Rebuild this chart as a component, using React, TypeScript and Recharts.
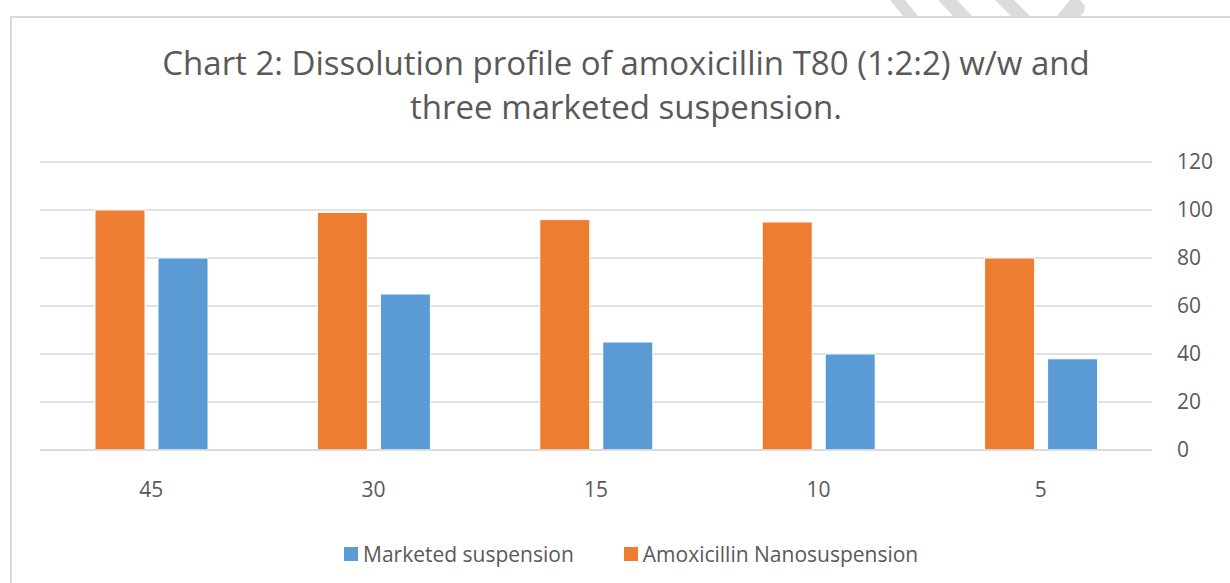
import { BarChart, Bar, XAxis, YAxis, CartesianGrid } from "recharts";

const timePoints = ["45", "30", "15", "10", "5"];
const nanoValues = [100, 99, 96, 95, 80];
const marketedValues = [80, 65, 45, 40, 38];
const yTicks = [0, 20, 40, 60, 80, 100, 120];

const NANO_COLOR = "#ED7D31";
const MARKETED_COLOR = "#5B9BD5";
const TEXT_COLOR = "#595959";
const GRID_COLOR = "#D9D9D9";
const FONT = "'Open Sans', 'Noto Sans', sans-serif";

const data = timePoints.map((t, i) => ({
  time: t,
  nano: nanoValues[i],
  marketed: marketedValues[i],
}));

const legendItems = [
  { name: "Marketed suspension", color: MARKETED_COLOR },
  { name: "Amoxicillin Nanosuspension", color: NANO_COLOR },
];

export default function App() {
  return (
    <div
      style={{
        position: "fixed",
        left: 0,
        top: 0,
        width: 1230,
        height: 583,
        background: "#fff",
        overflow: "hidden",
        fontFamily: FONT,
      }}
    >
      {/* watermark stripes */}
      <svg
        width={1230}
        height={20}
        style={{ position: "absolute", left: 0, top: 0 }}
      >
        <polygon points="890,0 905,0 918,16 903,16" fill="#DCDCDC" />
        <polygon points="938,0 957,0 972,16 953,16" fill="#DCDCDC" />
        <polygon points="995,0 1014,0 1030,16 1011,16" fill="#DCDCDC" />
        <polygon points="1070,0 1080,0 1085,6 1084,12 1080,16 1057,16" fill="#DCDCDC" />
      </svg>

      {/* outer chart border */}
      <div
        style={{
          position: "absolute",
          left: 10,
          top: 16,
          width: 1230,
          height: 600,
          borderLeft: "2px solid #D9D9D9",
          borderTop: "2px solid #D9D9D9",
        }}
      />

      <div
        style={{
          position: "absolute",
          left: 0,
          top: 41,
          width: 1252,
          textAlign: "center",
          fontSize: 33,
          lineHeight: "44px",
          color: TEXT_COLOR,
          whiteSpace: "nowrap",
        }}
      >
        Chart 2: Dissolution profile of amoxicillin T80 (1:2:2) w/w and
        <br />
        three marketed suspension.
      </div>

      <div style={{ position: "absolute", left: 0, top: 0 }}>
        <BarChart
          width={1230}
          height={583}
          data={data}
          margin={{ top: 162, right: 18, bottom: 93, left: 40 }}
          barGap={13}
          barSize={50}
        >
          <CartesianGrid
            vertical={false}
            stroke={GRID_COLOR}
            strokeWidth={1.5}
          />
          <XAxis
            dataKey="time"
            axisLine={{ stroke: GRID_COLOR, strokeWidth: 1.5 }}
            tickLine={false}
            tickMargin={26}
            height={40}
            tick={{ fill: TEXT_COLOR, fontSize: 21, fontFamily: FONT }}
          />
          <YAxis
            orientation="right"
            domain={[0, 120]}
            ticks={yTicks}
            axisLine={false}
            tickLine={false}
            tickMargin={19}
            width={60}
            tick={{ fill: TEXT_COLOR, fontSize: 21, fontFamily: FONT }}
          />
          <Bar
            dataKey="nano"
            name="Amoxicillin Nanosuspension"
            fill={NANO_COLOR}
            stroke="#FFFFFF"
            strokeWidth={1}
            isAnimationActive={false}
          />
          <Bar
            dataKey="marketed"
            name="Marketed suspension"
            fill={MARKETED_COLOR}
            stroke="#FFFFFF"
            strokeWidth={1}
            isAnimationActive={false}
          />
        </BarChart>
      </div>

      <div
        style={{
          position: "absolute",
          left: 344,
          top: 542,
          display: "flex",
          alignItems: "center",
          gap: 50,
          fontSize: 21,
          color: TEXT_COLOR,
          lineHeight: "24px",
        }}
      >
        {legendItems.map((item) => (
          <div
            key={item.name}
            style={{ display: "flex", alignItems: "center", gap: 5 }}
          >
            <span
              style={{
                display: "inline-block",
                width: 14,
                height: 14,
                background: item.color,
              }}
            />
            <span>{item.name}</span>
          </div>
        ))}
      </div>
    </div>
  );
}
